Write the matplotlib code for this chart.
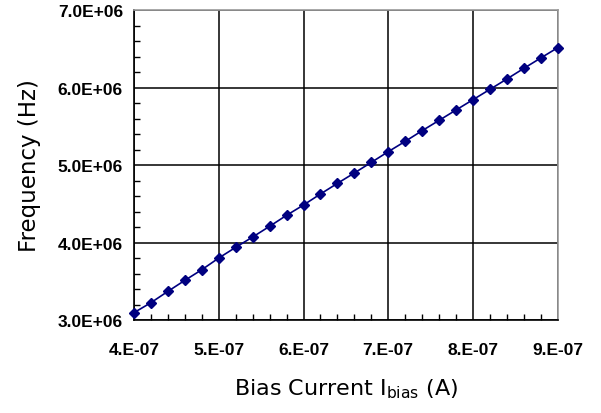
import matplotlib.pyplot as plt
from matplotlib.ticker import MultipleLocator, FuncFormatter

plt.rcParams['mathtext.default'] = 'regular'

# bias current (A) and frequency (Hz)
bias_current = [4.0e-7, 4.2e-7, 4.4e-7, 4.6e-7, 4.8e-7, 5.0e-7, 5.2e-7, 5.4e-7,
                5.6e-7, 5.8e-7, 6.0e-7, 6.2e-7, 6.4e-7, 6.6e-7, 6.8e-7, 7.0e-7,
                7.2e-7, 7.4e-7, 7.6e-7, 7.8e-7, 8.0e-7, 8.2e-7, 8.4e-7, 8.6e-7,
                8.8e-7, 9.0e-7]
frequency = [3.095e6, 3.224e6, 3.370e6, 3.512e6, 3.649e6, 3.800e6, 3.938e6, 4.071e6,
             4.209e6, 4.351e6, 4.484e6, 4.626e6, 4.763e6, 4.897e6, 5.034e6, 5.172e6,
             5.305e6, 5.443e6, 5.576e6, 5.710e6, 5.843e6, 5.976e6, 6.110e6, 6.247e6,
             6.381e6, 6.514e6]

fig = plt.figure(figsize=(6.01, 4.14), dpi=100)
ax = fig.add_axes([0.223, 0.2246, 0.705, 0.7488])

ax.plot(bias_current, frequency, color='#000080', lw=1.2, marker='D',
        markersize=5, clip_on=False, zorder=3)

ax.set_xlim(4e-7, 9e-7)
ax.set_ylim(3e6, 7e6)
ax.xaxis.set_major_locator(MultipleLocator(1e-7))
ax.xaxis.set_minor_locator(MultipleLocator(0.2e-7))
ax.yaxis.set_major_locator(MultipleLocator(1e6))
ax.yaxis.set_minor_locator(MultipleLocator(0.2e6))
ax.xaxis.set_major_formatter(FuncFormatter(lambda v, p: '%d.E-07' % round(v * 1e7)))
ax.yaxis.set_major_formatter(FuncFormatter(lambda v, p: '%.1fE+06' % (v / 1e6)))

ax.grid(True, which='major', color='black', lw=1.1)
ax.tick_params(which='both', direction='in', length=4, width=1, color='black')
ax.tick_params(axis='x', which='major', length=0, pad=16)
ax.tick_params(axis='y', which='major', length=0, pad=8)
for lab in ax.get_xticklabels() + ax.get_yticklabels():
    lab.set_fontweight('bold')
    lab.set_fontfamily('Liberation Sans')
    lab.set_fontsize(12.5)

for s in ['left', 'bottom']:
    ax.spines[s].set_color('black')
    ax.spines[s].set_linewidth(1.2)
for s in ['top', 'right']:
    ax.spines[s].set_color('#999999')
    ax.spines[s].set_linewidth(1.2)

ax.set_xlabel('Bias Current I$_{bias}$ (A)', fontsize=16, labelpad=14)
ax.set_ylabel('Frequency (Hz)', fontsize=16.5, labelpad=12)

plt.savefig('out.png', dpi=100)
